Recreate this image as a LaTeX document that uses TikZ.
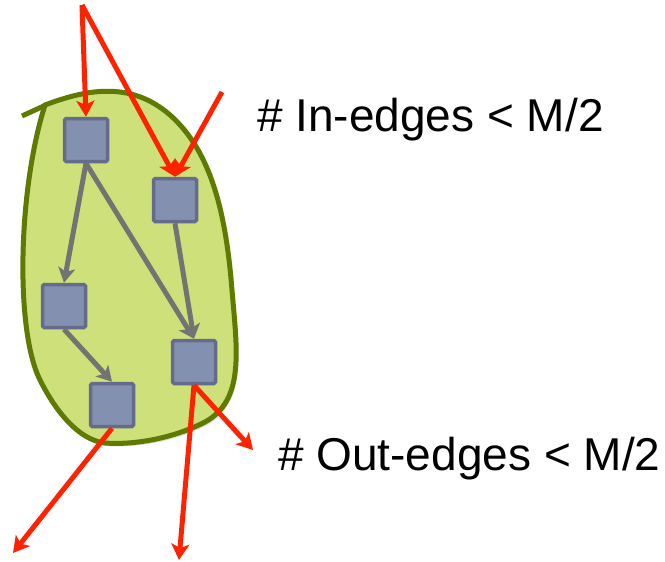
\documentclass[tikz,border=0pt]{standalone}
\usepackage{fontspec}
\setmainfont{Liberation Sans}
\usetikzlibrary{arrows.meta,shadows}
\definecolor{color1}{HTML}{CDE07A}
\definecolor{color2}{HTML}{5E7A00}
\definecolor{color3}{HTML}{8490B0}
\definecolor{color4}{HTML}{646B8C}
\definecolor{color5}{HTML}{FF2200}
\definecolor{color6}{HTML}{737373}
\tikzset{
	vertex/.style={draw=color4, fill=color3, line width=3.5pt,
		minimum size=43pt, inner sep=0pt, rounded corners=1.5pt,
		drop shadow={opacity=0.25, shadow xshift=1.5pt, shadow yshift=-1.5pt}},
	inner edge/.style={draw=color6, line width=5pt,
		-{Stealth[length=15pt,width=17pt,inset=4pt]}},
	cut edge/.style={draw=color5, line width=5pt,
		-{Stealth[length=16pt,width=18pt,inset=4pt]}},
	label/.style={anchor=base west, inner sep=0pt,
		font=\fontsize{46}{50}\selectfont}
}

\begin{document}
\begin{tikzpicture}[x=1pt,y=-1pt]
		\useasboundingbox (0,0) rectangle (665,562);
		% blob
		\filldraw[fill=color1, draw=color2, line width=5pt,
		drop shadow={opacity=0.3, shadow xshift=2pt, shadow yshift=-3pt}]
		(45,105) .. controls (85,90) and (130,80) .. (170,115)
		.. controls (212,152) and (226,215) .. (232,290)
		.. controls (237,350) and (245,400) .. (205,422)
		.. controls (170,440) and (130,445) .. (105,443)
		.. controls (78,440) and (55,410) .. (40,380)
		.. controls (15,330) and (18,190) .. (45,105) -- cycle;
		\draw[color2, line width=5pt] (22,116) -- (46,105);

		% vertices
		\node[vertex] (a) at (86,140) {};
		\node[vertex] (b) at (175,200) {};
		\node[vertex] (c) at (64,306) {};
		\node[vertex] (d) at (194,362) {};
		\node[vertex] (e) at (112,405) {};

		% edges inside
		\draw[inner edge] (a.south) -- (c.north);
		\draw[inner edge] (a.south) -- (d.north);
		\draw[inner edge] (b.south) -- (d.north);
		\draw[inner edge] (c.south) -- (e.north);

		% in-edges
		\coordinate (top) at (82,5);
		\coordinate (right) at (222,92);
		\draw[cut edge] (top) -- (a.north);
		\draw[cut edge] (top) -- (b.north);
		\draw[cut edge] (right) -- (b.north);

		% out-edges
		\coordinate (out1) at (13,553);
		\coordinate (out2) at (179,560);
		\coordinate (out3) at (253,450);
		\draw[cut edge] (e.south) -- (out1);
		\draw[cut edge] (d.south) -- (out2);
		\draw[cut edge] (d.south) -- (out3);

		% labels
		\node[label] (inlabel) at (257,131) {\# In-edges < M/2};
		\node[label] (outlabel) at (278,470) {\# Out-edges < M/2};
\end{tikzpicture}
\end{document}
